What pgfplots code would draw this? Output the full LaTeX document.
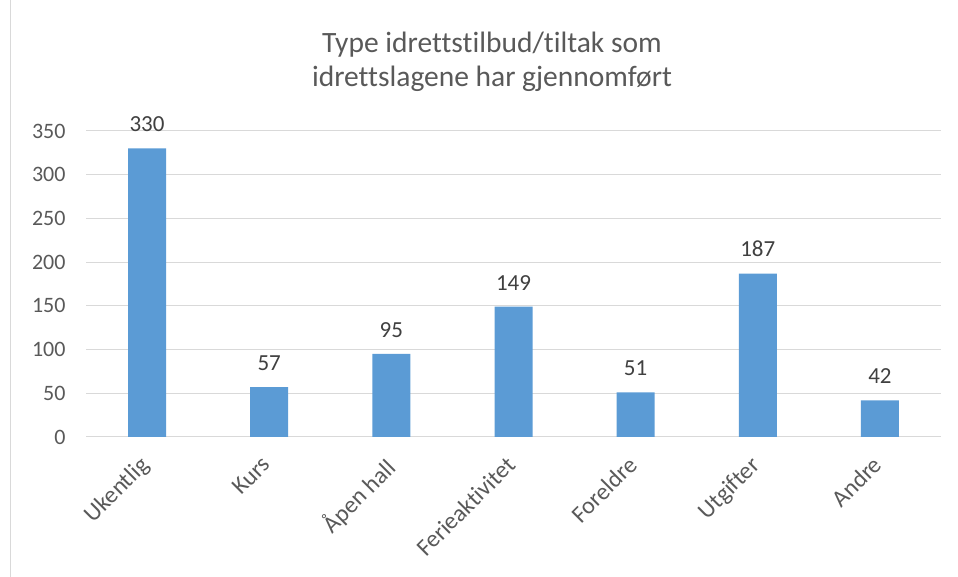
\documentclass[border=0pt]{standalone}
\usepackage{pgfplots}
\pgfplotsset{compat=1.18}
\usepackage{fontspec}
\setmainfont[Ligatures=NoCommon]{Carlito}
\definecolor{barblue}{HTML}{5B9BD5}
\definecolor{gridgray}{HTML}{D9D9D9}
\definecolor{txt}{HTML}{595959}
\definecolor{lbl}{HTML}{404040}
\begin{document}
\begin{tikzpicture}
\path[use as bounding box] (0,0) rectangle (958pt,577pt);
\draw[gridgray, line width=1pt] (10.5pt,0) -- (10.5pt,577pt);
\node[text=txt, font=\fontsize{29.5}{35}\selectfont, anchor=base] at (492pt,524pt) {Type idrettstilbud/tiltak som};
\node[text=txt, font=\fontsize{29.5}{35}\selectfont, anchor=base] at (492pt,490pt) {idrettslagene har gjennomført};
\begin{axis}[
  at={(86pt,140pt)}, anchor=south west,
  scale only axis, width=855pt, height=306pt,
  xmin=-0.5, xmax=6.5, ymin=0, ymax=350,
  ytick={0,50,...,350},
  xtick={0,...,6},
  xticklabels={Ukentlig,Kurs,Åpen hall,Ferieaktivitet,Foreldre,Utgifter,Andre},
  /pgf/number format/assume math mode=true,
  ymajorgrids, grid style={gridgray, line width=1pt},
  axis x line*=bottom, axis y line*=left,
  x axis line style={gridgray, line width=1pt, -},
  y axis line style={draw=none},
  major tick length=0pt,
  tick style={draw=none},
  yticklabel style={font=\fontsize{22}{22}\selectfont, text=txt, anchor=east, xshift=-17pt},
  xticklabel style={font=\fontsize{24}{24}\selectfont, text=txt, xshift=-8.5pt, yshift=-13pt, rotate=45, anchor=north east},
  ybar, bar width=38pt,
  nodes near coords,
  nodes near coords style={font=\fontsize{23}{23}\selectfont, text=lbl, yshift=13pt},
  clip=false,
]
\addplot[fill=barblue, draw=none] coordinates {(0,330) (1,57) (2,95) (3,149) (4,51) (5,187) (6,42)};
\end{axis}
\end{tikzpicture}
\end{document}
